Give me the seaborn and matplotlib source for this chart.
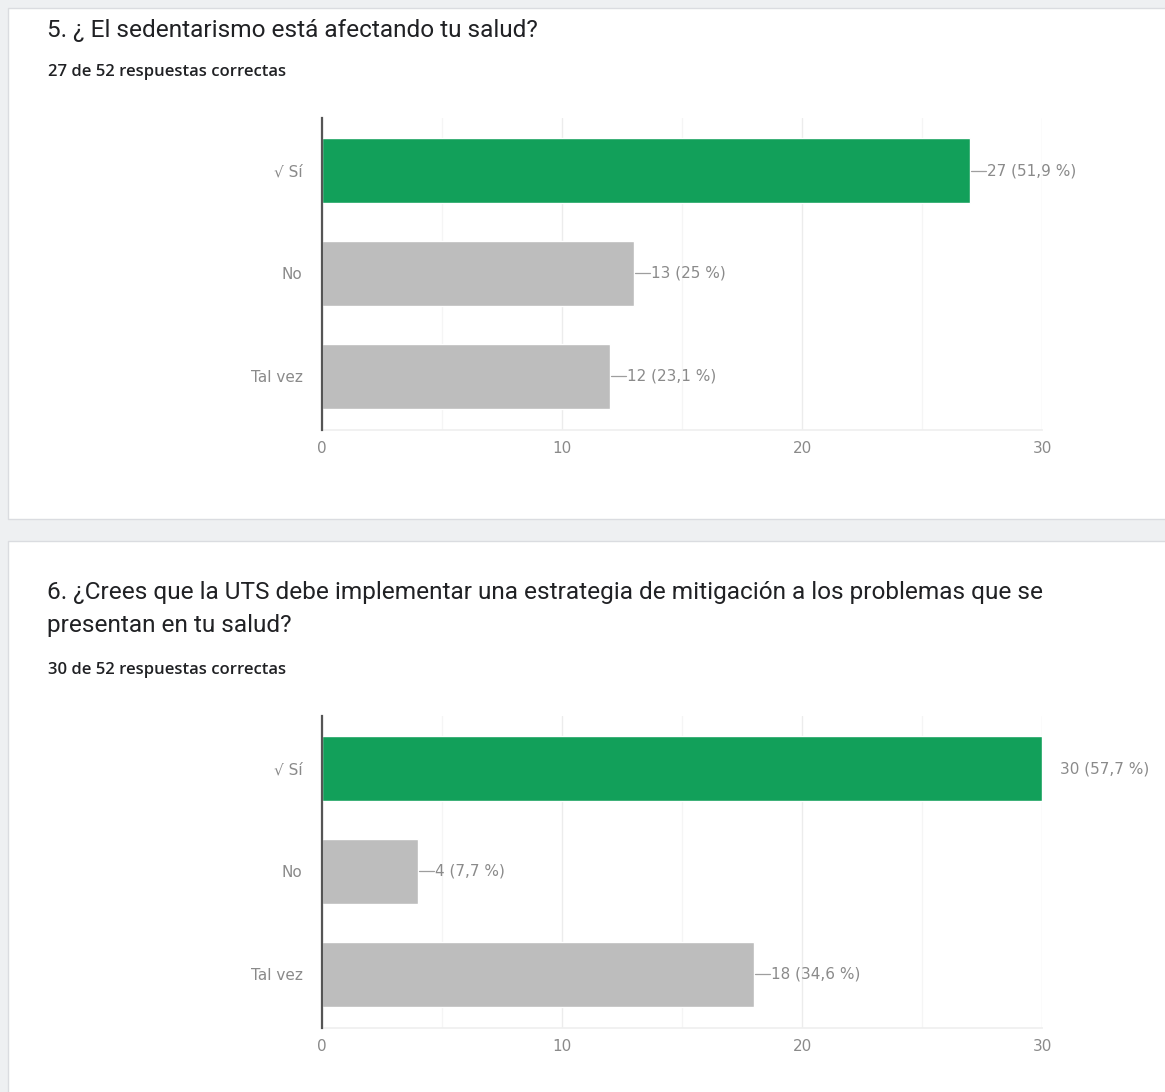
import matplotlib
matplotlib.use("Agg")
import matplotlib.pyplot as plt
from matplotlib.patches import Rectangle
import seaborn as sns

# Survey answers
categories = ["\u221a S\u00ed", "No", "Tal vez"]
q5_counts = [27, 13, 12]
q6_counts = [30, 4, 18]
total_responses = 52
q5_title = "5. \u00bf El sedentarismo est\u00e1 afectando tu salud?"
q6_title = ("6. \u00bfCrees que la UTS debe implementar una estrategia de mitigaci\u00f3n a los problemas que se\n"
            "presentan en tu salud?")
q5_sub = "27 de 52 respuestas correctas"
q6_sub = "30 de 52 respuestas correctas"
x_ticks = [0, 10, 20, 30]

GREEN = "#12a05a"
GREY = "#bdbdbd"
TEXT_GREY = "#8a8a8a"
LABEL_FONT = ["DejaVu Sans"]
SUB_FONT = ["Open Sans", "DejaVu Sans"]

sns.set_theme(style="white")
plt.rcParams["font.family"] = ["Roboto", "DejaVu Sans"]

W, H = 1165, 1092
fig = plt.figure(figsize=(W / 100, H / 100), dpi=100)
fig.patch.set_facecolor("white")


def fx(px):
    return px / W


def fy(py):
    return 1 - py / H


# page background and cards
fig.patches.append(Rectangle((0, 0), 1, 1, transform=fig.transFigure,
                             facecolor="#eef0f2", edgecolor="none", zorder=-10))
fig.patches.append(Rectangle((fx(8), fy(519)), 1, fy(8) - fy(519), transform=fig.transFigure,
                             facecolor="white", edgecolor="#dadce0", lw=1.0, zorder=-9))
fig.patches.append(Rectangle((fx(8), fy(1100)), 1, fy(541) - fy(1100), transform=fig.transFigure,
                             facecolor="white", edgecolor="#dadce0", lw=1.0, zorder=-9))


def fmt_pct(count):
    pct = round(count / total_responses * 100, 1)
    s = f"{pct:.1f}".rstrip("0").rstrip(".")
    return s.replace(".", ",")


def draw_chart(top_px, bottom_px, counts):
    ax = fig.add_axes([fx(322), fy(bottom_px), fx(1042) - fx(322), fy(top_px) - fy(bottom_px)])
    sns.barplot(x=counts, y=categories, hue=categories,
                palette=[GREEN, GREY, GREY], width=0.63,
                legend=False, orient="h", ax=ax, saturation=1)
    ax.set_xlim(0, 30)
    ax.set_ylim(2.52, -0.51)
    ax.set_xticks(x_ticks)
    ax.set_xticklabels([str(t) for t in x_ticks])
    ax.set_xticks([5, 15, 25], minor=True)
    ax.grid(axis="x", which="major", color="#ececec", lw=1)
    ax.grid(axis="x", which="minor", color="#f5f5f5", lw=1)
    ax.set_axisbelow(True)
    for side in ["top", "right"]:
        ax.spines[side].set_visible(False)
    ax.spines["bottom"].set_color("#efefef")
    ax.spines["left"].set_color("#555555")
    ax.spines["left"].set_linewidth(1.6)
    ax.spines["left"].set_zorder(5)
    ax.tick_params(axis="x", colors=TEXT_GREY, labelsize=11, length=0, pad=8)
    ax.tick_params(axis="y", colors=TEXT_GREY, labelsize=11, length=0, pad=14)
    for lab in ax.get_xticklabels() + ax.get_yticklabels():
        lab.set_family(LABEL_FONT)
    ax.set_xlabel("")
    ax.set_ylabel("")
    for i, c in enumerate(counts):
        label = f"{c} ({fmt_pct(c)} %)"
        if c >= 30:
            ax.text(c + 0.75, i, label, va="center", ha="left", family=LABEL_FONT,
                    color=TEXT_GREY, fontsize=11, clip_on=False)
        else:
            ax.plot([c + 0.05, c + 0.68], [i, i], color="#9e9e9e", lw=0.9, clip_on=False)
            ax.text(c + 0.72, i, label, va="center", ha="left", family=LABEL_FONT,
                    color=TEXT_GREY, fontsize=11, clip_on=False)
    return ax


# question 5
fig.text(fx(47), fy(30), q5_title, fontsize=17.6, color="#202124", va="center", ha="left")
fig.text(fx(48), fy(72), q5_sub, fontsize=12, color="#202124", va="center", ha="left",
         family=SUB_FONT, fontweight="semibold")
draw_chart(118, 430, q5_counts)

# question 6
fig.text(fx(47), fy(609), q6_title, fontsize=17.6, color="#202124", va="center", ha="left",
         linespacing=1.55)
fig.text(fx(48), fy(670), q6_sub, fontsize=12, color="#202124", va="center", ha="left",
         family=SUB_FONT, fontweight="semibold")
draw_chart(716, 1028, q6_counts)

fig.savefig("out.png", dpi=100, facecolor=fig.get_facecolor())
